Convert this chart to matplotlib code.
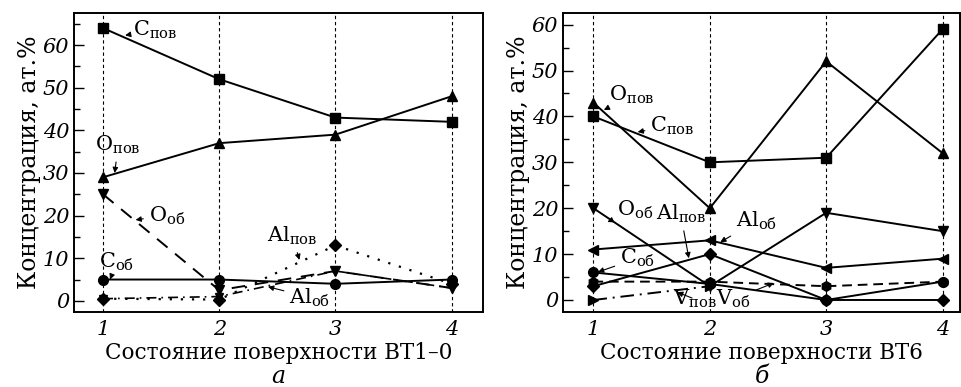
import numpy as np
import matplotlib
matplotlib.use('Agg')
import matplotlib.pyplot as plt
from matplotlib.ticker import MultipleLocator

plt.rcParams['font.family'] = 'DejaVu Serif'
plt.rcParams['mathtext.fontset'] = 'custom'
plt.rcParams['mathtext.rm'] = 'DejaVu Serif'
plt.rcParams['mathtext.it'] = 'DejaVu Serif:italic'

# состояния поверхности
states = [1, 2, 3, 4]

# ВТ1-0 (панель а)
a_C_pov = [64, 52, 43, 42]
a_O_pov = [29, 37, 39, 48]
a_O_ob = [25, 2.5, 7, 3]
a_C_ob = [5, 5, 4, 5]
a_Al_pov = [0.5, 0.3, 13, 4]
a_Al_ob = [0.5, 1, 7, 3]

# ВТ6 (панель б)
b_C_pov = [40, 30, 31, 59]
b_O_pov = [43, 20, 52, 32]
b_O_ob = [20, 3, 19, 15]
b_Al_ob = [11, 13, 7, 9]
b_Al_pov = [3, 10, 0, 0]
b_C_ob = [6, 3.5, 0, 4]
b_V_ob = [4, 4, 3, 4]
b_V_pov = [0, 3, np.nan, np.nan]

fig = plt.figure(figsize=(9.61, 3.87), dpi=100)
ax1 = fig.add_axes([0.077, 0.194, 0.4256, 0.772])
ax2 = fig.add_axes([0.586, 0.194, 0.413, 0.772])

def style(ax, ylim, xlim, xlabel, letter):
    for x in states:
        ax.axvline(x, color='k', ls=(0, (3, 2.5)), lw=0.8, zorder=1)
    ax.set_xlim(*xlim)
    ax.set_ylim(*ylim)
    ax.set_xticks(states)
    ax.yaxis.set_major_locator(MultipleLocator(10))
    ax.yaxis.set_minor_locator(MultipleLocator(5))
    ax.tick_params(axis='y', which='major', direction='in', length=7, width=1)
    ax.tick_params(axis='y', which='minor', direction='in', length=4, width=1)
    ax.tick_params(axis='x', length=0, pad=6)
    for lab in ax.get_xticklabels() + ax.get_yticklabels():
        lab.set_fontstyle('italic')
        lab.set_fontsize(15)
    for s in ax.spines.values():
        s.set_linewidth(1.4)
    ax.set_xlabel(xlabel, fontsize=15.5, labelpad=2)
    ax.set_ylabel('Концентрация, ат.%', fontsize=17, labelpad=1)
    ax.text(0.5, -0.215, letter, transform=ax.transAxes, ha='center', va='center',
            fontsize=17, fontstyle='italic')

def lbl(ax, txt, sub, xy, xytext, fs=15):
    ax.annotate(txt + r'$_{\mathregular{' + sub + '}}$', xy=xy, xytext=xytext,
                fontsize=fs, ha='center', va='center',
                arrowprops=dict(arrowstyle='-|>', lw=0.8, color='k',
                                mutation_scale=8, shrinkA=2, shrinkB=0))

kw = dict(color='k', lw=1.4, ms=7, zorder=3)

# панель а
ax1.plot(states, a_C_pov, marker='s', ls='-', **kw)
ax1.plot(states, a_O_pov, marker='^', ls='-', **kw)
ax1.plot(states, a_O_ob, marker='v', ls=(0, (7, 5)), **kw)
ax1.plot(states, a_C_ob, marker='o', ls='-', **kw)
ax1.plot(states, a_Al_pov, marker='D', ls=(0, (1, 4)), color='k', lw=1.6, ms=6, zorder=3)
ax1.plot(states, a_Al_ob, marker='v', ls=(0, (6, 3, 1, 3)), color='k', lw=1.2, ms=6, zorder=3)

style(ax1, (-2.6, 67.5), (0.75, 4.27), 'Состояние поверхности ВТ1–0', 'а')

lbl(ax1, 'C', 'пов', (1.19, 62.3), (1.45, 63.5))
lbl(ax1, 'O', 'пов', (1.1, 30), (1.13, 36.5))
lbl(ax1, 'O', 'об', (1.28, 19), (1.55, 20))
lbl(ax1, 'C', 'об', (1.06, 5), (1.12, 9.2))
lbl(ax1, 'Al', 'пов', (2.69, 9.6), (2.63, 15.2))
lbl(ax1, 'Al', 'об', (2.42, 3.3), (2.78, 0.8))

# панель б
ax2.plot(states, b_C_pov, marker='s', ls='-', **kw)
ax2.plot(states, b_O_pov, marker='^', ls='-', **kw)
ax2.plot(states, b_O_ob, marker='v', ls='-', **kw)
ax2.plot(states, b_Al_ob, marker='<', ls='-', **kw)
ax2.plot(states, b_Al_pov, marker='D', ls='-', color='k', lw=1.4, ms=6, zorder=3)
ax2.plot(states, b_C_ob, marker='o', ls='-', **kw)
ax2.plot(states, b_V_ob, marker='h', ls=(0, (5, 3)), **kw)
ax2.plot(states, b_V_pov, marker='>', ls=(0, (7, 3, 1, 3)), **kw)

style(ax2, (-2.6, 62.5), (0.74, 4.15), 'Состояние поверхности ВТ6', 'б')

lbl(ax2, 'O', 'пов', (1.09, 41.4), (1.33, 44.6))
lbl(ax2, 'C', 'пов', (1.38, 36.6), (1.68, 38))
lbl(ax2, 'O', 'об', (1.12, 17), (1.36, 19.6))
lbl(ax2, 'Al', 'пов', (1.82, 9.1), (1.75, 18.7))
lbl(ax2, 'Al', 'об', (2.09, 12.6), (2.4, 17.2))
lbl(ax2, 'C', 'об', (1.04, 6.1), (1.38, 9.1))
lbl(ax2, 'V', 'пов', (1.72, 1.7), (1.87, 0.2))
lbl(ax2, 'V', 'об', (2.55, 3.7), (2.2, 0.2))

fig.savefig('out.png', dpi=100)
